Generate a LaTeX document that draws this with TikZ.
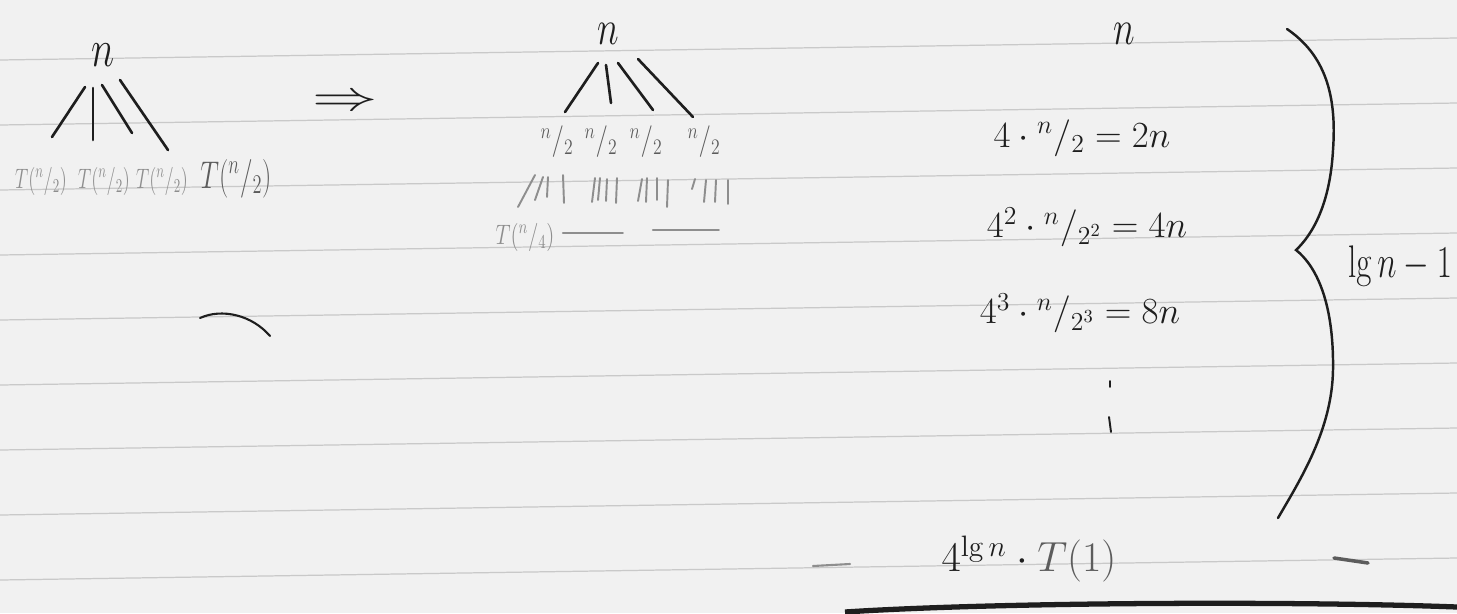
\RequirePackage{fix-cm}
\documentclass[tikz,border=0pt]{standalone}
\usepackage{graphicx}
\usepackage{tikz}
\usetikzlibrary{positioning, calc}
\definecolor{paperBg}{HTML}{F1F1F1}
\definecolor{ruleGray}{HTML}{C9C9C9}
\definecolor{inkDark}{HTML}{1E1E1E}
\definecolor{pencilMid}{HTML}{5C5C5C}
\definecolor{pencilLight}{HTML}{8E8E8E}
\newcommand{\sfr}[2]{{}^{#1}/_{#2}}
\newcommand{\hw}[2][0.8]{\scalebox{#1}[1]{#2}}

\begin{document}
\begin{tikzpicture}[x=0.02cm, y=-0.02cm,
        ink/.style={text=inkDark, inner sep=0pt},
        pen/.style={text=pencilMid, inner sep=0pt},
        faint/.style={text=pencilLight, inner sep=0pt},
        branch/.style={draw=inkDark, line width=1.5pt, line cap=round},
        twig/.style={draw=pencilLight, line width=1.1pt, line cap=round},
        ruled/.style={draw=ruleGray, line width=0.7pt}
    ]
    % paper and ruling
    \fill[paperBg] (0,0) rectangle (1457,613);
    \useasboundingbox (0,0) rectangle (1457,613);
    \foreach \k in {0,...,8} \draw[ruled] (0,{60+65*\k}) -- (1457,{38+65*\k});

    % first tree
    \node[ink, font=\fontsize{30}{34}\selectfont] (rootA) at (103,55) {\hw[0.75]{$n$}};
    \node[faint, font=\fontsize{16}{18}\selectfont, anchor=base] (ta) at (41,188) {\hw[0.66]{$T(\sfr{n}{2})$}};
    \node[faint, font=\fontsize{16}{18}\selectfont, anchor=base] (tb) at (104,188) {\hw[0.66]{$T(\sfr{n}{2})$}};
    \node[faint, font=\fontsize{16}{18}\selectfont, anchor=base] (tc) at (162,188) {\hw[0.66]{$T(\sfr{n}{2})$}};
    \node[pen, font=\fontsize{22}{24}\selectfont, anchor=base] (td) at (236,188) {\hw[0.68]{$T(\sfr{n}{2})$}};
    \coordinate (ua1) at (85,87);  \coordinate (da1) at (52,137);
    \coordinate (ua2) at (93,88);  \coordinate (da2) at (93,140);
    \coordinate (ua3) at (102,85); \coordinate (da3) at (132,133);
    \coordinate (ua4) at (120,80); \coordinate (da4) at (168,150);
    \draw[branch] (ua1)--(da1); \draw[branch] (ua2)--(da2); \draw[branch] (ua3)--(da3); \draw[branch] (ua4)--(da4);

    \node[ink, font=\fontsize{24}{26}\selectfont] (imp) at (345,103) {\hw[1.55]{$\Rightarrow$}};
    \draw[branch, line width=1.2pt] (200,318) .. controls (222,308) and (252,315) .. (270,336);

    % second tree
    \node[ink, font=\fontsize{28}{32}\selectfont] (rootB) at (608,34) {\hw[0.75]{$n$}};
    \coordinate (ub1) at (598,63); \coordinate (db1) at (565,112);
    \coordinate (ub2) at (606,65); \coordinate (db2) at (611,103);
    \coordinate (ub3) at (618,63); \coordinate (db3) at (653,110);
    \coordinate (ub4) at (638,59); \coordinate (db4) at (693,117);
    \draw[branch] (ub1)--(db1); \draw[branch] (ub2)--(db2); \draw[branch] (ub3)--(db3); \draw[branch] (ub4)--(db4);
    \node[pen, font=\fontsize{18}{20}\selectfont] (h1) at (557,142) {\hw[0.8]{$\sfr{n}{2}$}};
    \node[pen, font=\fontsize{18}{20}\selectfont] (h2) at (601,142) {\hw[0.8]{$\sfr{n}{2}$}};
    \node[pen, font=\fontsize{18}{20}\selectfont] (h3) at (646,142) {\hw[0.8]{$\sfr{n}{2}$}};
    \node[pen, font=\fontsize{18}{20}\selectfont] (h4) at (704,142) {\hw[0.8]{$\sfr{n}{2}$}};
    \draw[twig] (h1.center) ++(-22,33) -- ++(-17,32) (h1.center) ++(-14,35) -- ++(-8,23)
                (h1.center) ++(-9,35) -- ++(-1,20) (h1.center) ++(6,33) -- ++(1,28);
    \draw[twig] (h2.center) ++(-6,36) -- ++(-3,24) (h2.center) ++(-1,36) -- ++(-2,22)
                (h2.center) ++(6,37) -- ++(-1,22) (h2.center) ++(16,36) -- ++(-1,25);
    \draw[twig] (h3.center) ++(-4,37) -- ++(-4,22) (h3.center) ++(1,36) -- ++(-1,24)
                (h3.center) ++(11,36) -- ++(0,22) (h3.center) ++(22,38) -- ++(-1,27);
    \draw[twig] (h4.center) ++(-9,37) -- ++(-3,10) (h4.center) ++(2,38) -- ++(-2,22)
                (h4.center) ++(12,38) -- ++(-1,22) (h4.center) ++(24,38) -- ++(0,24);
    \node[faint, font=\fontsize{16}{18}\selectfont, anchor=base] (q) at (525,244) {\hw[0.75]{$T(\sfr{n}{4})$}};
    \draw[twig] (q.east) ++(8,-4) -- ++(60,0) ++(30,-3) -- ++(66,0);

    % level sums
    \node[ink, font=\fontsize{28}{32}\selectfont] (rootC) at (1124,34) {\hw[0.75]{$n$}};
    \node[ink, font=\fontsize{21}{24}\selectfont] (e1) at (1082,138) {$4\cdot\sfr{n}{2} = 2n$};
    \node[ink, font=\fontsize{21}{24}\selectfont] (e2) at (1087,227) {$4^2\cdot\sfr{n}{2^2} = 4n$};
    \node[ink, font=\fontsize{21}{24}\selectfont] (e3) at (1080,313) {$4^3\cdot\sfr{n}{2^3} = 8n$};
    \draw[branch, line width=1.1pt] (1110,381) -- (1110,387) (1109,417) -- (1111,432);
    \node[ink, font=\fontsize{24}{26}\selectfont] (e4) at (1029,559) {$4^{\lg n}\cdot \textcolor{pencilMid}{T(1)}$};

    \draw[branch, line width=1.4pt] (1287,29) .. controls (1325,55) and (1337,95) .. (1333,150)
        .. controls (1330,205) and (1312,235) .. (1296,250)
        .. controls (1315,265) and (1334,300) .. (1333,370)
        .. controls (1332,430) and (1300,480) .. (1278,518);
    \node[ink, font=\fontsize{26}{28}\selectfont] (span) at (1400,266) {\hw[0.72]{$\lg n - 1$}};

    % marks at the foot of the page
    \draw[twig, line width=1.2pt] (813,566) -- (850,564);
    \draw[draw=pencilMid, line width=2pt, line cap=round] (1334,558) -- (1368,563);
    \draw[draw=inkDark, line width=3pt] (845,612) .. controls (1000,602) and (1300,601) .. (1457,607);
\end{tikzpicture}
\end{document}
